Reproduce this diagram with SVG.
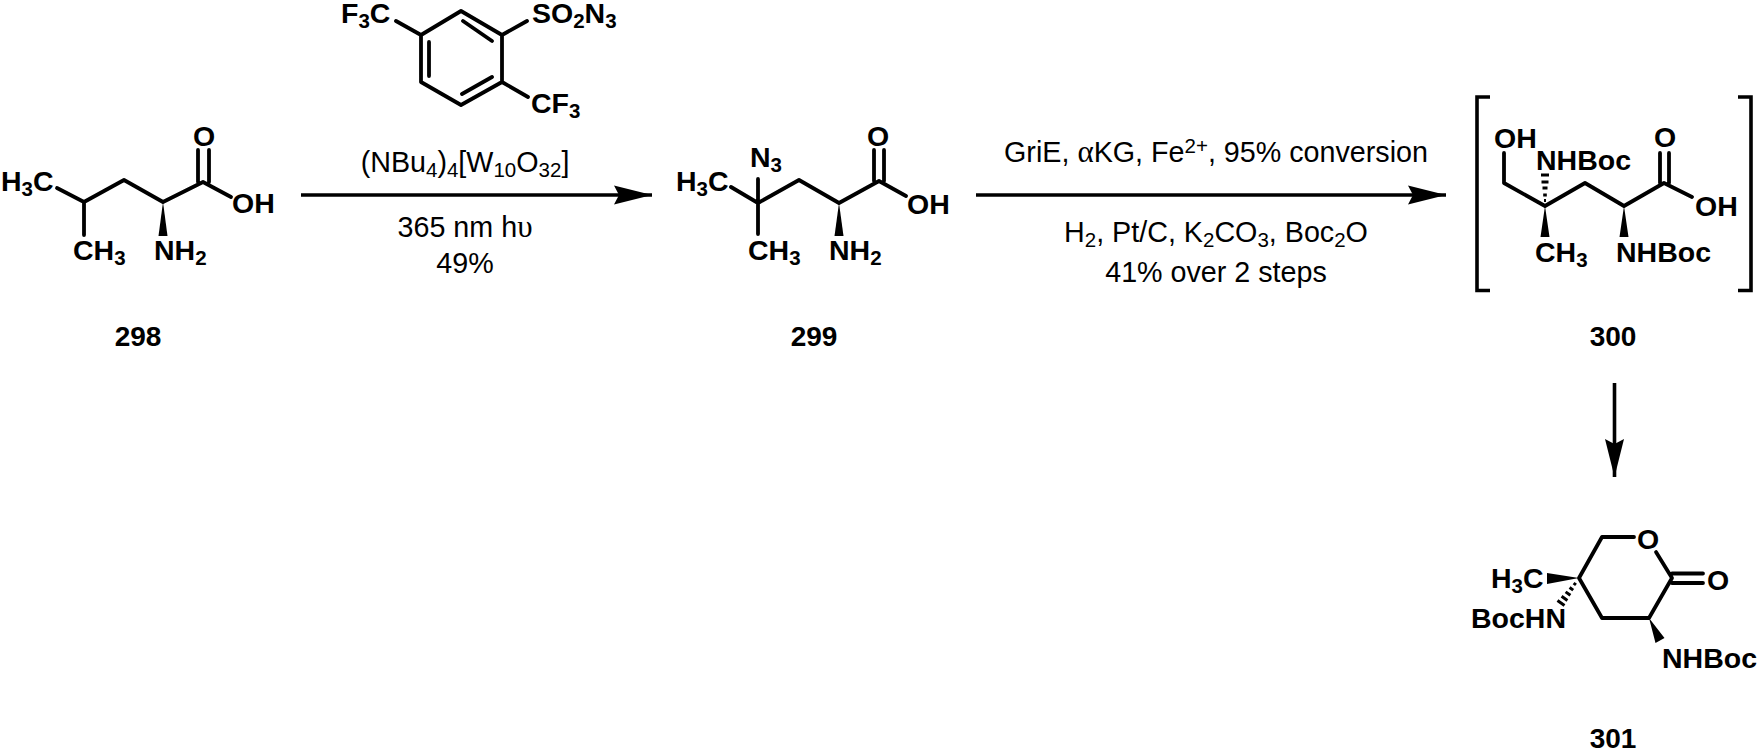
<svg xmlns="http://www.w3.org/2000/svg" width="1758" height="753" viewBox="0 0 1758 753">
<defs>
<style>
text{font-family:"Liberation Sans",Arial,sans-serif;fill:#000}
.a{font-size:28.500px;font-weight:bold}
.s{font-size:20.500px}
.r{font-size:28.700px;text-anchor:middle}
.n{font-size:28px;font-weight:bold;text-anchor:middle}
.g{font-family:"Liberation Serif","Times New Roman",serif;font-size:31px}
.b{fill:none;stroke:#000;stroke-width:3.8;stroke-linejoin:round;stroke-linecap:round}
.h{fill:none;stroke:#000;stroke-width:3}
.w{fill:#000;stroke:none}
.c{fill:none;stroke:#000;stroke-width:3.6}
</style>
<marker id="head" markerUnits="userSpaceOnUse" markerWidth="42" markerHeight="24" refX="38" refY="12" orient="auto" viewBox="0 0 42 24"><path d="M0 2.5L38 12L0 21.500L5 12Z" fill="#000"/></marker>
</defs>
<rect width="1758" height="753" fill="#fff"/>
<g id="connectors">
<line class="c" x1="301" y1="195" x2="652" y2="195" marker-end="url(#head)"/>
<line class="c" x1="976" y1="195" x2="1446" y2="195" marker-end="url(#head)"/>
<line class="c" x1="1614.500" y1="383" x2="1614.500" y2="477" marker-end="url(#head)"/>
</g>
<g id="reagent-sulfonyl-azide">
<path class="b" d="M461 11L502 35V82L461 105L421 82V35ZM463 21L492 41M492 77L462 94M429 42V76M421 35L396 21M502 35L527 21M502 82L528 97"/>
<text class="a" x="341" y="23">F<tspan class="s" dy="5">3</tspan><tspan dy="-5">C</tspan></text>
<text class="a" x="532" y="23">SO<tspan class="s" dy="5">2</tspan><tspan dy="-5">N</tspan><tspan class="s" dy="5">3</tspan></text>
<text class="a" x="531" y="113">CF<tspan class="s" dy="5">3</tspan></text>
</g>
<g id="conditions-1">
<text class="r" x="465" y="172">(NBu<tspan class="s" dy="5">4</tspan><tspan dy="-5">)</tspan><tspan class="s" dy="5">4</tspan><tspan dy="-5">[W</tspan><tspan class="s" dy="5">10</tspan><tspan dy="-5">O</tspan><tspan class="s" dy="5">32</tspan><tspan dy="-5">]</tspan></text>
<text class="r" x="465" y="237">365 nm h<tspan class="g">υ</tspan></text>
<text class="r" x="465" y="273">49%</text>
</g>
<g id="compound-298">
<path class="b" d="M57 188L84 202L124 180L163 202L203 182L231 197M84 202V235M198 182V150M209 182V150"/>
<path class="w" d="M163 202L158.500 236H167.500Z"/>
<text class="a" x="1" y="191">H<tspan class="s" dy="5">3</tspan><tspan dy="-5">C</tspan></text>
<text class="a" x="193" y="146">O</text>
<text class="a" x="232" y="213">OH</text>
<text class="a" x="73" y="260">CH<tspan class="s" dy="5">3</tspan></text>
<text class="a" x="154" y="260">NH<tspan class="s" dy="5">2</tspan></text>
<text class="n" x="138" y="346">298</text>
</g>
<g id="compound-299">
<path class="b" d="M731 187L758 203L799 180L839 203L879 181L906 196M758 179V234M874 181V150M884 181V150"/>
<path class="w" d="M839 203L834.500 236H843.500Z"/>
<text class="a" x="676" y="191">H<tspan class="s" dy="5">3</tspan><tspan dy="-5">C</tspan></text>
<text class="a" x="750" y="167">N<tspan class="s" dy="5">3</tspan></text>
<text class="a" x="867" y="146">O</text>
<text class="a" x="907" y="214">OH</text>
<text class="a" x="748" y="260">CH<tspan class="s" dy="5">3</tspan></text>
<text class="a" x="829" y="260">NH<tspan class="s" dy="5">2</tspan></text>
<text class="n" x="814" y="346">299</text>
</g>
<g id="conditions-2">
<text class="r" x="1216" y="162">GriE, <tspan class="g">α</tspan>KG, Fe<tspan class="s" dy="-9">2+</tspan><tspan dy="9">, 95% conversion</tspan></text>
<text class="r" x="1216" y="242">H<tspan class="s" dy="5">2</tspan><tspan dy="-5">, Pt/C, K</tspan><tspan class="s" dy="5">2</tspan><tspan dy="-5">CO</tspan><tspan class="s" dy="5">3</tspan><tspan dy="-5">, Boc</tspan><tspan class="s" dy="5">2</tspan><tspan dy="-5">O</tspan></text>
<text class="r" x="1216" y="282">41% over 2 steps</text>
</g>
<g id="compound-300">
<path class="c" d="M1490 97H1477V290.500H1490M1738 97H1751V290.500H1738"/>
<path class="b" d="M1504 153V183L1545 206L1585 183L1624 206L1664 183L1692 197M1660 183V153M1669 183V153"/>
<path class="h" d="M1541 175H1549M1541.500 182H1548.500M1542.500 188H1547.500M1543.200 195H1546.800M1544 200.500H1546"/>
<path class="w" d="M1545 206L1540.500 237H1549.500ZM1624 206L1619.500 237H1628.500Z"/>
<text class="a" x="1494" y="148">OH</text>
<text class="a" x="1536" y="170">NHBoc</text>
<text class="a" x="1654" y="147">O</text>
<text class="a" x="1695" y="216">OH</text>
<text class="a" x="1535" y="262">CH<tspan class="s" dy="5">3</tspan></text>
<text class="a" x="1616" y="262">NHBoc</text>
<text class="n" x="1613" y="346">300</text>
</g>
<g id="compound-301">
<path class="b" d="M1656 552L1672 578L1649 618H1602L1579 578L1602 537H1634M1672 573.500H1703M1672 583H1703"/>
<path class="w" d="M1579 578L1547 573V584ZM1649 618L1655.500 643L1664.500 638Z"/>
<path class="h" d="M1573.600 583.100L1576 584.900M1569.600 587.500L1573.200 590.100M1565.600 591.900L1570.400 595.300M1561.600 596.300L1567.400 600.500M1557.500 600.500L1564.500 605.500"/>
<text class="a" x="1637" y="549">O</text>
<text class="a" x="1707" y="590">O</text>
<text class="a" x="1491" y="588">H<tspan class="s" dy="5">3</tspan><tspan dy="-5">C</tspan></text>
<text class="a" x="1471" y="628">BocHN</text>
<text class="a" x="1662" y="668">NHBoc</text>
<text class="n" x="1613" y="748">301</text>
</g>
</svg>
